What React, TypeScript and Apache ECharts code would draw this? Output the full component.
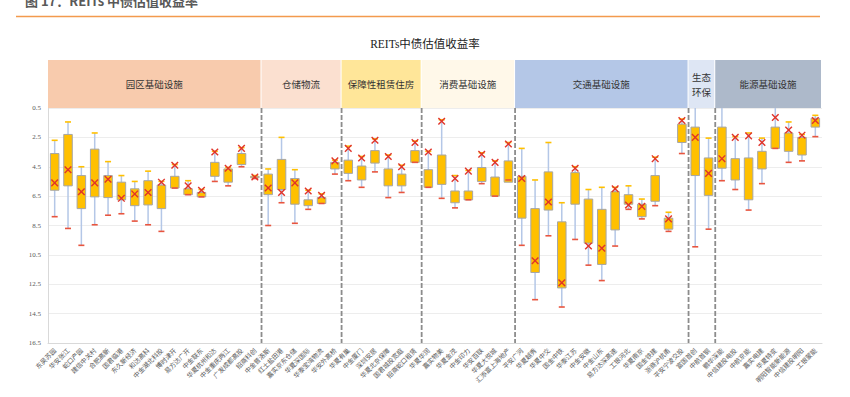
import React, { useEffect, useRef } from "react";
import * as echarts from "echarts";

// ---------- data ----------
const categories = [
  "东吴苏园", "华安张江", "蛇口产园", "建信中关村", "合肥高新", "国君临港", "东久新经济", "和达高科",
  "中金湖北科投", "博时津开", "易方达广开", "中金联东", "华夏杭州和达", "中金重庆两江", "广发成都高投", "招商科创",
  "中金普洛斯", "红土盐田港", "嘉实京东仓储", "华夏深国际", "华泰宝湾物流", "华安外高桥",
  "华夏有巢", "中金厦门", "深圳安居", "华夏北京保障", "国君城投宽庭", "招商蛇口租赁",
  "华夏华润", "嘉实物美", "华夏金茂", "中金印力", "华安百联", "华夏大悦城", "汇添富上海地产",
  "平安广河", "华夏越秀", "华夏中交", "国金中铁", "华泰江苏", "中金安徽", "中金山东", "易方达深高速",
  "工银河北", "华夏南京", "国金铁建", "浙商沪杭甬", "平安宁波交投",
  "富国首创", "中航首钢",
  "鹏华深能", "中信建投电投", "中航京能", "嘉实电建", "华夏特变", "明阳智能新能源", "中信建投明阳", "工银蒙能",
];

const groupNames = ["园区基础设施", "仓储物流", "保障性租赁住房", "消费基础设施", "交通基础设施", "生态\n环保", "能源基础设施"];
const groupSizes = [16, 6, 6, 7, 13, 2, 8];

// lower yield end of whisker (drawn at top, axis inverted)
const whiskerLow = [
  2.7, 1.45, 4.5, 2.2, 4.15, 5.1, 5.5, 4.8, 5.5, 4.35, 5.45, 6.05, 3.45, 4.55, 3.2, 5.1,
  4.65, 2.5, 4.7, 6.1, 6.35, 4.05,
  3.1, 3.8, 2.6, 3.7, 4.4, 2.75,
  3.45, 1.3, 5.1, 4.75, 3.55, 4.1, 2.85,
  3.25, 5.4, 2.85, 6.95, 4.5, 6.05, 5.9, 5.9, 5.8, 6.7, 3.85, 7.6, 1.25,
  0.5, 2.55,
  0.5, 2.45, 2.2, 2.55, 0.5, 1.45, 2.3, 1.0,
];
const boxLow = [
  3.6, 2.3, 5.1, 3.3, 5.1, 5.55, 6.0, 5.45, 5.75, 5.15, 6.0, 6.25, 4.2, 4.65, 3.6, 5.15,
  5.0, 4.0, 5.3, 6.75, 6.6, 4.2,
  4.05, 4.45, 3.4, 4.65, 5.0, 3.4,
  4.7, 3.7, 6.15, 6.15, 4.55, 5.2, 4.1,
  5.15, 7.35, 4.85, 8.25, 4.9, 6.7, 7.4, 6.2, 6.4, 7.05, 5.1, 8.0, 1.6,
  1.8, 3.9,
  1.8, 3.95, 3.9, 3.45, 1.8, 2.2, 2.5, 1.2,
];
const boxHigh = [
  6.1, 5.8, 7.35, 6.55, 6.6, 6.75, 7.15, 7.1, 7.35, 5.95, 6.4, 6.55, 5.15, 5.55, 4.35, 5.25,
  6.4, 6.05, 7.05, 7.15, 7.0, 4.65,
  4.95, 5.4, 4.25, 5.8, 5.8, 4.2,
  5.9, 5.7, 6.95, 6.75, 5.5, 6.5, 5.55,
  8.0, 11.7, 7.45, 12.75, 7.05, 9.7, 11.15, 8.8, 7.05, 7.9, 6.85, 8.75, 2.85,
  5.1, 6.45,
  4.6, 5.4, 6.75, 4.65, 3.25, 3.45, 3.7, 1.8,
];
const whiskerHigh = [
  7.9, 8.7, 9.85, 8.45, 7.8, 7.7, 8.2, 8.45, 8.9, 5.95, 6.4, 6.55, 5.5, 5.8, 4.5, 5.3,
  8.5, 6.95, 8.35, 7.4, 7.0, 5.0,
  5.45, 5.9, 4.85, 6.6, 6.25, 4.2,
  5.9, 6.65, 7.3, 6.75, 5.65, 6.5, 5.4,
  9.85, 13.55, 9.2, 14.05, 9.45, 11.2, 12.25, 9.9, 7.4, 8.05, 7.15, 8.9, 3.6,
  9.95, 8.75,
  5.45, 6.05, 7.45, 5.65, 3.25, 4.2, 4.1, 2.45,
];
const currentYield = [
  5.6, 4.7, 6.2, 5.6, 5.35, 6.65, 6.35, 6.25, 5.55, 4.4, 5.8, 6.1, 3.5, 4.6, 3.25, 5.2,
  5.95, 6.25, 5.6, 6.15, 6.45, 4.1,
  3.25, 3.9, 2.7, 3.8, 4.5, 2.85,
  3.5, 1.4, 5.3, 4.8, 3.65, 4.2, 2.95,
  5.3, 10.9, 6.9, 12.4, 4.6, 9.9, 10.05, 6.0, 7.1, 7.2, 3.95, 8.05, 1.35,
  2.5, 4.95,
  3.95, 2.5, 2.4, 2.85, 1.15, 2.0, 2.35, 1.35,
];

const yMin = 0.5;
const yMax = 16.5;
const yStep = 2;

// ---------- styles ----------
const groupColors = ["#F8CBAD", "#FBE0D0", "#FFE699", "#FFF8E9", "#B4C7E7", "#DEE6F4", "#ADB9CA"];
const FONT_CJK = "'Noto Sans CJK SC', sans-serif";
const FONT_SERIF = "'Liberation Serif', 'Noto Sans CJK SC', serif";

export default function App() {
  const ref = useRef<HTMLDivElement>(null);

  useEffect(() => {
    if (!ref.current) return;
    const chart = echarts.init(ref.current, undefined, { renderer: "svg" });

    const boxData = categories.map((_, i) => [
      i, whiskerLow[i], boxLow[i], boxHigh[i], whiskerHigh[i], currentYield[i],
    ]);

    const bounds: number[] = [];
    let acc = 0;
    const groupData = groupNames.map((name, g) => {
      const start = acc;
      acc += groupSizes[g];
      if (g < groupNames.length - 1) bounds.push(acc);
      return [start, acc, g];
    });

    const option: any = {
      animation: false,
      backgroundColor: "#ffffff",
      title: {
        text: "REITs中债估值收益率",
        left: "center",
        top: 33,
        textStyle: { fontSize: 11.5, fontWeight: "normal", color: "#222", fontFamily: FONT_SERIF },
      },
      graphic: [
        {
          type: "text",
          left: 25,
          top: -6,
          style: {
            text: "图 17：REITs 中债估值收益率",
            fontSize: 13,
            fontWeight: "bold",
            fill: "#595959",
            fontFamily: FONT_CJK,
          },
        },
        {
          type: "line",
          shape: { x1: 16, y1: 16.5, x2: 820, y2: 16.5 },
          style: { stroke: "#F39A4E", lineWidth: 1.5 },
        },
      ],
      grid: [
        { left: 48, right: 28, top: 108, bottom: 54 },
        { left: 48, right: 28, top: 60, height: 48 },
      ],
      xAxis: [
        {
          type: "category",
          gridIndex: 0,
          data: categories,
          axisLine: { show: true, lineStyle: { color: "#D9D9D9" } },
          axisTick: { show: false },
          axisLabel: {
            interval: 0,
            rotate: 45,
            fontSize: 6.5,
            color: "#595959",
            margin: 6,
            fontFamily: FONT_CJK,
          },
          splitLine: { show: false },
        },
        { type: "value", gridIndex: 0, min: 0, max: categories.length, show: false },
        { type: "value", gridIndex: 1, min: 0, max: categories.length, show: false },
      ],
      yAxis: [
        {
          type: "value",
          gridIndex: 0,
          inverse: true,
          min: yMin,
          max: yMax,
          interval: yStep,
          axisLine: { show: true, lineStyle: { color: "#D9D9D9" } },
          axisTick: { show: false },
          axisLabel: {
            fontSize: 7,
            color: "#595959",
            fontFamily: FONT_SERIF,
            margin: 7,
            formatter: (v: number) => v.toFixed(1),
          },
          splitLine: { show: true, lineStyle: { color: "#EDEDED" } },
        },
        { type: "value", gridIndex: 1, min: 0, max: 1, show: false },
      ],
      series: [
        {
          type: "custom",
          name: "box",
          xAxisIndex: 0,
          yAxisIndex: 0,
          data: boxData,
          encode: { x: 0, y: [1, 2, 3, 4, 5] },
          renderItem: (params: any, api: any) => {
            const i = api.value(0);
            const lo = api.value(1);
            const q1 = api.value(2);
            const q3 = api.value(3);
            const hi = api.value(4);
            const cur = api.value(5);
            const bw = api.size([1, 0])[0];
            const boxW = bw * 0.64;
            const capW = 3;
            const pLo = api.coord([i, lo]);
            const pQ1 = api.coord([i, q1]);
            const pQ3 = api.coord([i, q3]);
            const pHi = api.coord([i, hi]);
            const pC = api.coord([i, cur]);
            const x = pLo[0];
            const s = 3.3;
            const children: any[] = [
              {
                type: "line",
                shape: { x1: x, y1: pLo[1], x2: x, y2: pHi[1] },
                style: { stroke: "#B4C7E7", lineWidth: 1.5 },
              },
              {
                type: "rect",
                shape: { x: x - boxW / 2, y: pQ1[1], width: boxW, height: Math.max(pQ3[1] - pQ1[1], 1) },
                style: { fill: "#FFC000", stroke: "#A6A6A6", lineWidth: 1 },
              },
            ];
            if (lo > yMin) {
              children.push({
                type: "line",
                shape: { x1: x - capW, y1: pLo[1], x2: x + capW, y2: pLo[1] },
                style: { stroke: "#FFC000", lineWidth: 1.6 },
              });
            }
            children.push({
              type: "line",
              shape: { x1: x - capW, y1: pHi[1], x2: x + capW, y2: pHi[1] },
              style: { stroke: "#E8553F", lineWidth: 1.6 },
            });
            children.push(
              {
                type: "line",
                shape: { x1: x - s, y1: pC[1] - s, x2: x + s, y2: pC[1] + s },
                style: { stroke: "#E0332A", lineWidth: 1.4 },
              },
              {
                type: "line",
                shape: { x1: x - s, y1: pC[1] + s, x2: x + s, y2: pC[1] - s },
                style: { stroke: "#E0332A", lineWidth: 1.4 },
              }
            );
            return { type: "group", children };
          },
          z: 3,
        },
        {
          type: "custom",
          name: "sep",
          xAxisIndex: 1,
          yAxisIndex: 0,
          data: bounds.map((b) => [b]),
          encode: { x: 0 },
          renderItem: (params: any, api: any) => {
            const b = api.value(0);
            const p0 = api.coord([b, yMin]);
            const p1 = api.coord([b, yMax]);
            return {
              type: "line",
              shape: { x1: p0[0], y1: p0[1], x2: p1[0], y2: p1[1] },
              style: { stroke: "#8C8C8C", lineWidth: 1.8, lineDash: [5, 2] },
            };
          },
          z: 2,
        },
        {
          type: "custom",
          name: "header",
          xAxisIndex: 2,
          yAxisIndex: 1,
          data: groupData,
          encode: { x: [0, 1] },
          renderItem: (params: any, api: any) => {
            const a = api.value(0);
            const b = api.value(1);
            const g = api.value(2);
            const p0 = api.coord([a, 1]);
            const p1 = api.coord([b, 0]);
            const w = p1[0] - p0[0] - 1;
            const h = p1[1] - p0[1];
            return {
              type: "group",
              children: [
                {
                  type: "rect",
                  shape: { x: p0[0], y: p0[1], width: w, height: h },
                  style: { fill: groupColors[g] },
                },
                {
                  type: "text",
                  style: {
                    text: groupNames[g],
                    x: p0[0] + w / 2,
                    y: p0[1] + h / 2,
                    align: "center",
                    verticalAlign: "middle",
                    fontSize: 9.5,
                    lineHeight: 15,
                    fill: "#333333",
                    fontFamily: FONT_CJK,
                  },
                },
              ],
            };
          },
        },
      ],
    };

    chart.setOption(option);
    return () => chart.dispose();
  }, []);

  return (
    <div
      ref={ref}
      style={{ position: "absolute", left: 0, top: 0, width: 850, height: 397, background: "#fff" }}
    />
  );
}
